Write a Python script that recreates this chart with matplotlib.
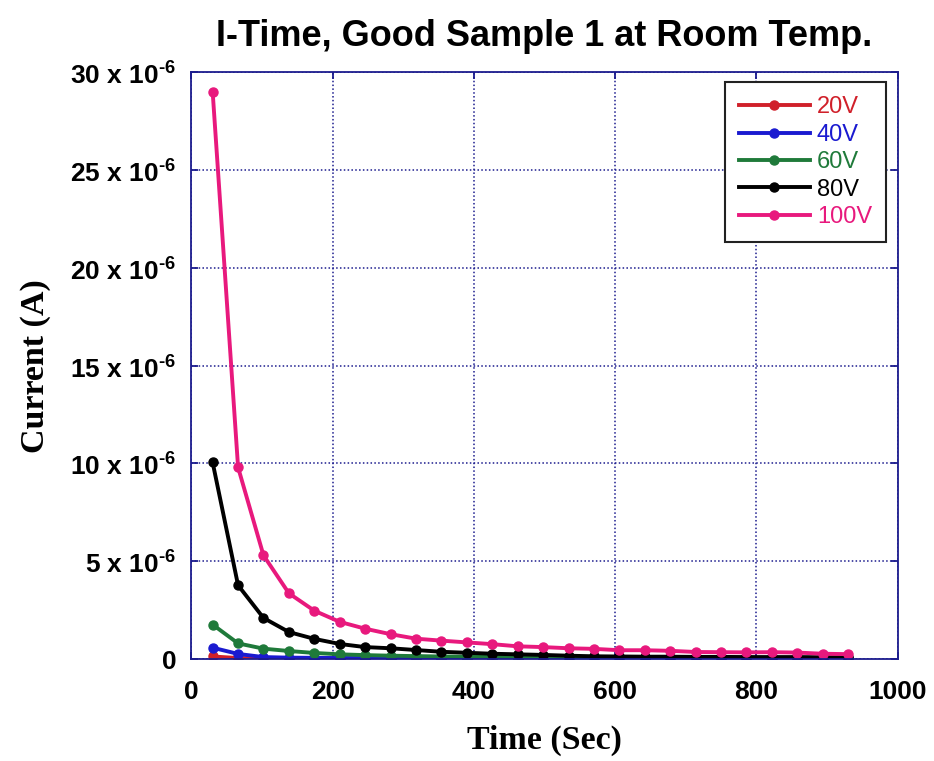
import matplotlib
matplotlib.use("Agg")
import matplotlib.pyplot as plt
from matplotlib.ticker import FixedLocator, FixedFormatter

plt.rcParams['mathtext.fontset'] = 'custom'
plt.rcParams['mathtext.rm'] = 'Liberation Sans:bold'
plt.rcParams['mathtext.bf'] = 'Liberation Sans:bold'

time_s = [30, 66, 102, 138, 174, 210, 246, 282, 318, 354, 390, 426, 462,
          498, 534, 570, 606, 642, 678, 714, 750, 786, 822, 858, 894, 930]

i_20v = [0.13, 0.05, 0.03, 0.02, 0.02, 0.02, 0.02, 0.02, 0.01, 0.01, 0.01, 0.01, 0.01,
         0.01, 0.01, 0.01, 0.01, 0.01, 0.01, 0.01, 0.01, 0.01, 0.01, 0.01, 0.01, 0.01]
i_40v = [0.58, 0.26, 0.10, 0.07, 0.06, 0.05, 0.05, 0.04, 0.04, 0.04, 0.04, 0.03, 0.03,
         0.03, 0.03, 0.03, 0.03, 0.03, 0.03, 0.03, 0.03, 0.03, 0.03, 0.03, 0.03, 0.03]
i_60v = [1.76, 0.80, 0.53, 0.41, 0.31, 0.24, 0.20, 0.17, 0.15, 0.13, 0.12, 0.11, 0.10,
         0.09, 0.09, 0.08, 0.08, 0.08, 0.07, 0.07, 0.07, 0.07, 0.06, 0.06, 0.06, 0.06]
i_80v = [10.05, 3.77, 2.10, 1.38, 1.03, 0.77, 0.61, 0.55, 0.46, 0.37, 0.32, 0.27, 0.24,
         0.21, 0.17, 0.14, 0.13, 0.12, 0.12, 0.11, 0.11, 0.10, 0.10, 0.10, 0.09, 0.09]
i_100v = [29.0, 9.8, 5.3, 3.36, 2.47, 1.90, 1.55, 1.27, 1.04, 0.94, 0.85, 0.76, 0.65,
          0.61, 0.55, 0.52, 0.45, 0.45, 0.42, 0.36, 0.35, 0.34, 0.35, 0.33, 0.27, 0.25]

series_labels = ["20V", "40V", "60V", "80V", "100V"]
series_colors = ["#d0202a", "#1a1ad0", "#1f7a3a", "#000000", "#e8197d"]

x_ticks = [0, 200, 400, 600, 800, 1000]
x_tick_labels = ["0", "200", "400", "600", "800", "1000"]
y_ticks = [0, 5, 10, 15, 20, 25, 30]
y_tick_labels = ["0", r"5 x 10$^{\text{-6}}$", r"10 x 10$^{\text{-6}}$", r"15 x 10$^{\text{-6}}$",
                 r"20 x 10$^{\text{-6}}$", r"25 x 10$^{\text{-6}}$", r"30 x 10$^{\text{-6}}$"]

navy = "#1c1c8e"

fig = plt.figure(figsize=(9.34, 7.61), dpi=100)
ax = fig.add_axes([0.205, 0.134, 0.756, 0.771])

for vals, lab, col in zip([i_20v, i_40v, i_60v, i_80v, i_100v], series_labels, series_colors):
    ax.plot(time_s, vals, color=col, lw=2.8, marker='o', ms=6.5, label=lab,
            solid_joinstyle='round')

ax.set_xlim(0, 1000)
ax.set_ylim(0, 30)
ax.xaxis.set_major_locator(FixedLocator(x_ticks))
ax.xaxis.set_major_formatter(FixedFormatter(x_tick_labels))
ax.yaxis.set_major_locator(FixedLocator(y_ticks))
ax.yaxis.set_major_formatter(FixedFormatter(y_tick_labels))

ax.grid(True, color=navy, linestyle=(0, (1, 1.5)), linewidth=1.1)
for s in ax.spines.values():
    s.set_color(navy)
    s.set_linewidth(1.3)
ax.tick_params(direction='in', length=5, width=1.3, color=navy, top=True, right=True,
               labelsize=19, pad=11)
for t in ax.get_xticklabels() + ax.get_yticklabels():
    t.set_fontfamily('Liberation Sans')
    t.set_fontweight('bold')
ax.tick_params(axis='x', pad=15)

ax.set_title("I-Time, Good Sample 1 at Room Temp.", fontsize=26, fontweight='bold',
             family='Liberation Sans', pad=19)
ax.set_xlabel("Time (Sec)", fontsize=24.5, fontweight='bold', family='Liberation Serif',
              labelpad=15)
ax.set_ylabel("Current (A)", fontsize=24.5, fontweight='bold', family='Liberation Serif',
              labelpad=14)

leg = ax.legend(loc='upper right', bbox_to_anchor=(0.984, 0.983), borderaxespad=0,
                fancybox=False, edgecolor='#222222', framealpha=1,
                prop={'family': 'Liberation Sans', 'size': 17},
                handlelength=3.0, handletextpad=0.3, labelspacing=0.23,
                borderpad=0.6, markerscale=1.0)
leg.get_frame().set_linewidth(1.5)
for txt, col in zip(leg.get_texts(), series_colors):
    txt.set_color(col)

fig.savefig("out.png", dpi=100)
